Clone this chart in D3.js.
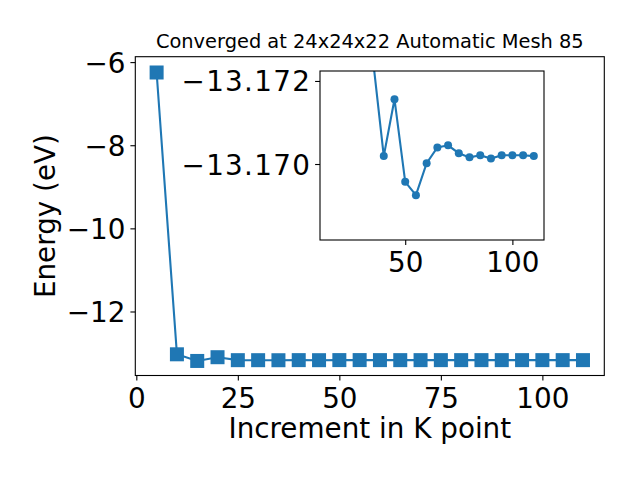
<!DOCTYPE html>
<html><head><meta charset="utf-8">
<script src="https://cdn.jsdelivr.net/npm/d3@7"></script>
<style>body{margin:0;background:#fff}svg{display:block}text{font-family:"DejaVu Sans",sans-serif;fill:#000}</style>
</head><body><svg id="c" width="640" height="480"></svg>
<script>
const kPoints = [5,10,15,20,25,30,35,40,45,50,55,60,65,70,75,80,85,90,95,100,105,110];
const energies = [-6.25,-13.03,-13.19,-13.10,-13.171,-13.1715,-13.1725,-13.17019,-13.17156,-13.16957,-13.16925,-13.17002,-13.17040,-13.17045,-13.17026,-13.17016,-13.17021,-13.17013,-13.17021,-13.17021,-13.17021,-13.17019];
const insetK = [35,40,45,50,55,60,65,70,75,80,85,90,95,100,105,110];
const insetEnergies = [-13.1725,-13.17019,-13.17156,-13.16957,-13.16925,-13.17002,-13.17040,-13.17045,-13.17026,-13.17016,-13.17021,-13.17013,-13.17021,-13.17021,-13.17021,-13.17019];
const xTicks = [0,25,50,75,100];
const yTicks = [-12,-10,-8,-6];
const insetXTicks = [50,100];
const insetYTicks = [-13.172,-13.170];
const titleText = "Converged at 24x24x22 Automatic Mesh 85";
const xLabel = "Increment in K point";
const yLabel = "Energy (eV)";
const color = "#1f77b4";

const svg = d3.select("#c");
const M = {l:135.3, r:604.3, t:56.7, b:375.5};
const x = d3.scaleLinear().domain([-0.25,115.25]).range([M.l,M.r]);
const y = d3.scaleLinear().domain([-13.54,-5.87]).range([M.b,M.t]);

function axes(g, xs, ys, xt, yt, yfmt, box, fs){
  g.append("rect").attr("x",box.l).attr("y",box.t).attr("width",box.r-box.l).attr("height",box.b-box.t)
    .attr("fill","#fff");
  const xa = g.append("g").attr("transform",`translate(0,${box.b})`)
    .call(d3.axisBottom(xs).tickValues(xt).tickSize(4.9).tickPadding(4.9).tickFormat(d3.format("d")));
  const ya = g.append("g").attr("transform",`translate(${box.l},0)`)
    .call(d3.axisLeft(ys).tickValues(yt).tickSize(4.9).tickPadding(4.9).tickFormat(yfmt));
  [xa,ya].forEach(a=>{a.select(".domain").remove();a.selectAll("line").attr("stroke","#000").attr("stroke-width",1.1);
    a.selectAll("text").attr("font-size",fs).attr("font-family","DejaVu Sans");});
  xa.selectAll("text").attr("dy","0.8em");
  ya.selectAll("text").attr("dy","0.36em");
  return {xa, ya};
}
function spines(g, box){
  g.append("rect").attr("x",box.l).attr("y",box.t).attr("width",box.r-box.l).attr("height",box.b-box.t)
    .attr("fill","none").attr("stroke","#000").attr("stroke-width",1.1);
}
const minus = s => s.replace("-","\u2212");

// main axes
const gm = svg.append("g");
axes(gm, x, y, xTicks, yTicks, d=>minus(d3.format("d")(d)), M, 27.8);
gm.append("path").datum(kPoints.map((k,i)=>[k,energies[i]]))
  .attr("d", d3.line().x(d=>x(d[0])).y(d=>y(d[1])))
  .attr("fill","none").attr("stroke",color).attr("stroke-width",2.1);
gm.selectAll("rect.m").data(kPoints.map((k,i)=>[k,energies[i]])).join("rect").attr("class","m")
  .attr("x",d=>x(d[0])-7).attr("y",d=>y(d[1])-7).attr("width",14).attr("height",14).attr("fill",color);
spines(gm, M);

svg.append("text").attr("x",(M.l+M.r)/2).attr("y",48).attr("text-anchor","middle").attr("font-size",19.4).text(titleText);
svg.append("text").attr("x",(M.l+M.r)/2).attr("y",438).attr("text-anchor","middle").attr("font-size",27.8).text(xLabel);
svg.append("text").attr("transform",`translate(55,${(M.t+M.b)/2}) rotate(-90)`).attr("text-anchor","middle").attr("font-size",27.8).text(yLabel);

// inset
const I = {l:320, r:544, t:71, b:240};
const xi = d3.scaleLinear().domain([10.25,114.75]).range([I.l,I.r]);
const yi = d3.scaleLinear().domain([-13.16817,-13.17224]).range([I.b,I.t]);
const gi = svg.append("g");
const ia = axes(gi, xi, yi, insetXTicks, insetYTicks, d=>minus(d3.format(".3f")(d)), I, 27.8);
ia.ya.selectAll("text").attr("letter-spacing", 1.3).attr("x", -8.8);
svg.append("defs").append("clipPath").attr("id","ic").append("rect")
  .attr("x",I.l).attr("y",I.t).attr("width",I.r-I.l).attr("height",I.b-I.t);
const pg = gi.append("g").attr("clip-path","url(#ic)");
const idata = insetK.map((k,i)=>[k,insetEnergies[i]]);
pg.append("path").datum(idata).attr("d", d3.line().x(d=>xi(d[0])).y(d=>yi(d[1])))
  .attr("fill","none").attr("stroke",color).attr("stroke-width",2.1);
pg.selectAll("circle").data(idata).join("circle").attr("cx",d=>xi(d[0])).attr("cy",d=>yi(d[1])).attr("r",4).attr("fill",color);
spines(gi, I);
</script></body></html>
